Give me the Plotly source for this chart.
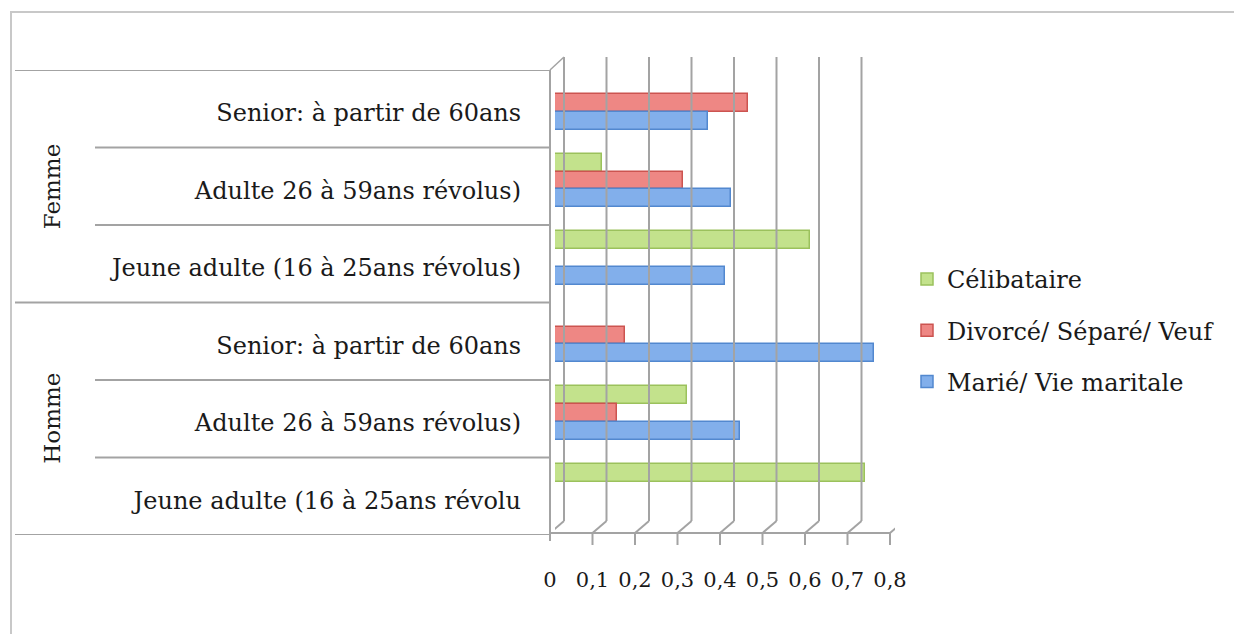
import plotly.graph_objects as go

# categories (bottom to top, as drawn)
groups = ["Homme", "Femme"]
ages = ["Jeune adulte (16 à 25ans révolu", "Adulte 26 à 59ans révolus)", "Senior: à partir de 60ans",
        "Jeune adulte (16 à 25ans révolus)", "Adulte 26 à 59ans révolus)", "Senior: à partir de 60ans"]

# series values
celibataire = [0.73, 0.31, 0.0, 0.60, 0.11, 0.0]
divorce = [0.0, 0.145, 0.165, 0.0, 0.30, 0.455]
marie = [0.0, 0.435, 0.75, 0.40, 0.415, 0.36]

x_ticks = [0, 0.1, 0.2, 0.3, 0.4, 0.5, 0.6, 0.7, 0.8]

FONT = "DejaVu Serif"
GRID = "#a3a3a3"
TXT = "#1a1a1a"

pos = list(range(len(ages)))

# page pixels (browser body has an 8px margin)
OFF = 8
W, H = 1242 - OFF, 634 - OFF
L, R, T, B = 555, 895, 70, 535
pw, ph = R - L, B - T


def px(x):
    return (x - L) / pw


def py(y):
    return (B - y) / ph


fig = go.Figure()
series = [
    ("Célibataire", celibataire, "#c3e28c", "#9bc15c", 0.19),
    ("Divorcé/ Séparé/ Veuf", divorce, "#ee8784", "#cc5450", -0.04),
    ("Marié/ Vie maritale", marie, "#82afeb", "#5288cf", -0.27),
]
for name, vals, col, edge, off in series:
    fig.add_trace(go.Bar(
        x=vals, y=pos, orientation="h", name=name, legendgroup=name,
        offset=off, width=0.23,
        marker=dict(color=col, line=dict(color=edge, width=1.5)),
    ))

shapes = []
# back wall gridlines, floor diagonals and front ticks
for v in x_ticks:
    shapes.append(dict(type="line", xref="x", xsizemode="pixel", xanchor=v, x0=9, x1=9,
                       yref="paper", y0=py(521), y1=py(57), line=dict(color=GRID, width=2)))
    shapes.append(dict(type="line", xref="x", xsizemode="pixel", xanchor=v, x0=-5, x1=9,
                       yref="paper", y0=py(533), y1=py(521), line=dict(color=GRID, width=2)))
    shapes.append(dict(type="line", xref="x", xsizemode="pixel", xanchor=v, x0=-5, x1=-5,
                       yref="paper", y0=py(533), y1=py(545), line=dict(color=GRID, width=2)))
# front axis line
shapes.append(dict(type="line", xref="paper", yref="paper", x0=px(550), x1=px(890),
                   y0=py(533), y1=py(533), line=dict(color=GRID, width=2)))
# left wall
shapes.append(dict(type="line", xref="paper", yref="paper", x0=px(550), x1=px(550),
                   y0=py(70), y1=py(541), line=dict(color=GRID, width=2)))
shapes.append(dict(type="line", xref="paper", yref="paper", x0=px(550), x1=px(564),
                   y0=py(70), y1=py(57), line=dict(color=GRID, width=1.5)))
# category table lines
for i in range(len(ages) + 1):
    b = i - 0.5
    full = i in (0, 3, 6)
    shapes.append(dict(type="line", xref="paper", yref="y", x0=px(15 if full else 95), x1=px(550),
                       y0=b, y1=b, line=dict(color=GRID, width=2)))
# outer frame
shapes.append(dict(type="rect", xref="paper", yref="paper", x0=px(11), x1=px(1240),
                   y0=py(660), y1=py(12), line=dict(color="#c8c8c8", width=2)))

annotations = []
for g, c in zip(groups, [1, 4]):
    annotations.append(dict(text=g, xref="paper", yref="y", x=px(52), y=c, showarrow=False,
                            xanchor="center", yanchor="middle", textangle=-90,
                            font=dict(family=FONT, size=23, color=TXT)))

fig.update_layout(
    width=W, height=H,
    margin=dict(l=L - OFF, r=1242 - R, t=T - OFF, b=634 - B, pad=0),
    plot_bgcolor="white", paper_bgcolor="white",
    separators=", ",
    font=dict(family=FONT, size=24, color=TXT),
    bargap=0,
    showlegend=True,
    legend=dict(x=px(907), y=py(257), xanchor="left", yanchor="top",
                traceorder="grouped", tracegroupgap=17, itemwidth=30,
                font=dict(family=FONT, size=24, color=TXT)),
    shapes=shapes,
    annotations=annotations,
)
fig.update_xaxes(range=[0, 0.8], tickvals=x_ticks, tickformat=".1~f", showgrid=False,
                 zeroline=False, showline=False, ticks="", ticklabelstandoff=30,
                 ticklabelshift=-5, tickfont=dict(family=FONT, size=21, color=TXT))
fig.update_yaxes(range=[-0.5, 5.5], tickvals=pos, ticktext=ages, showgrid=False,
                 zeroline=False, showline=False, ticks="", ticklabelstandoff=33,
                 ticklabelshift=4, tickfont=dict(family=FONT, size=24, color=TXT))

fig.write_html("out.html")
